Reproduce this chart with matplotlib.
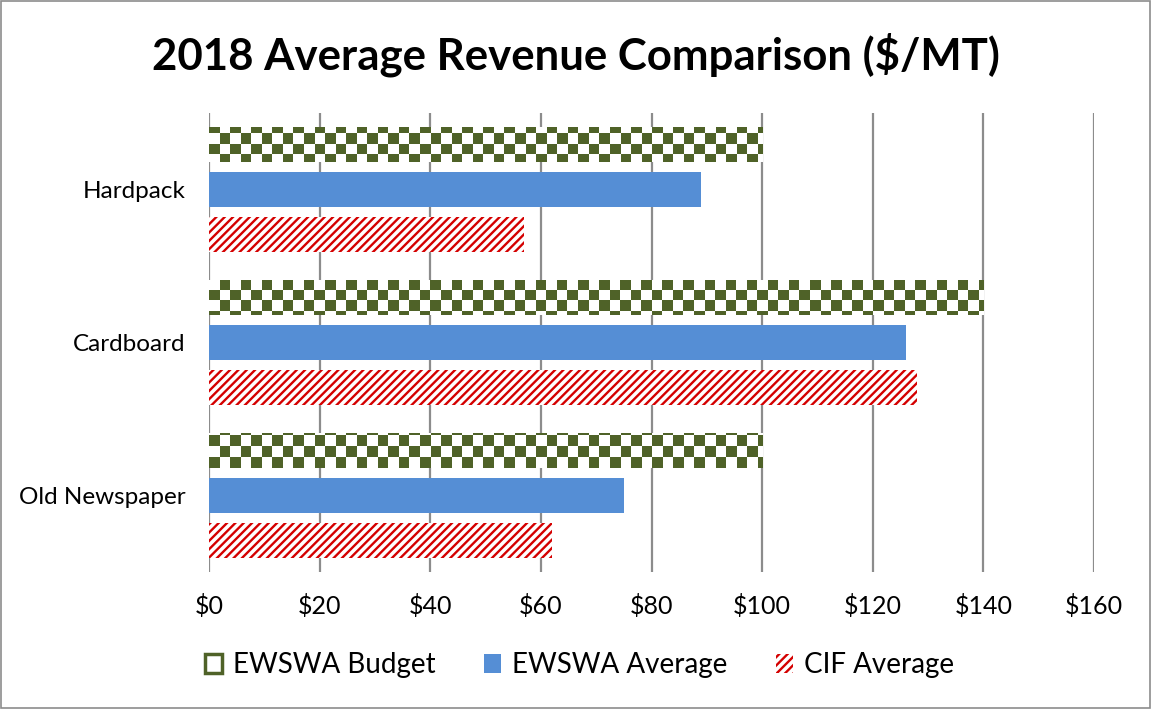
import numpy as np
import matplotlib
matplotlib.use("Agg")
import matplotlib.pyplot as plt
from matplotlib.patches import Rectangle, Patch
from matplotlib.colors import ListedColormap

plt.rcParams['font.family'] = ['Lato', 'DejaVu Sans']
plt.rcParams['hatch.linewidth'] = 1.7

categories = ["Old Newspaper", "Cardboard", "Hardpack"]
budget = [100, 140, 100]
ewswa_avg = [75, 126, 89]
cif_avg = [62, 128, 57]
series_names = ["EWSWA Budget", "EWSWA Average", "CIF Average"]
xticks = [0, 20, 40, 60, 80, 100, 120, 140, 160]
xticklabels = ["$" + str(v) for v in xticks]

OLIVE = "#4F6228"
BLUE = "#558ED5"
RED = "#D40000"

W, H, DPI = 1152, 709, 100
fig = plt.figure(figsize=(W / DPI, H / DPI), dpi=DPI)
ax_l, ax_b, ax_w, ax_h = 209 / W, 1 - 572 / H, (1094 - 209) / W, 459 / H
ax = fig.add_axes([ax_l, ax_b, ax_w, ax_h])

y = np.arange(len(categories))
bh = 0.229
off = 0.294

ax.set_xlim(0, 160)
ax.set_ylim(-0.5, 2.5)

b_budget = ax.barh(y + off, budget, height=bh, color="white", edgecolor="none", zorder=2)
b_avg = ax.barh(y, ewswa_avg, height=bh, color=BLUE, edgecolor="none", zorder=2)
b_cif = ax.barh(y - off, cif_avg, height=bh, color="white", edgecolor=RED, linewidth=0,
                hatch="////", zorder=2)

# checkerboard fill for budget bars
cell = 10.5
ax_px_w = ax_w * W
ax_px_h = ax_h * H
nx = int(round(ax_px_w / cell))
ny = int(round(ax_px_h / cell))
ii, jj = np.indices((ny, nx))
checker = ((ii + jj) % 2).astype(float)
cmap = ListedColormap(["white", OLIVE])
for bar in b_budget:
    im = ax.imshow(checker, cmap=cmap, extent=(0, 160, -0.5, 2.5), origin="upper",
                   aspect="auto", interpolation="nearest", zorder=2.5)
    im.set_clip_path(bar)
ax.set_xlim(0, 160)
ax.set_ylim(-0.5, 2.5)

ax.set_xticks(xticks)
ax.set_xticklabels(xticklabels, fontsize=18)
ax.set_yticks(y)
ax.set_yticklabels(categories, fontsize=17.5)
ax.tick_params(axis="both", length=0)
ax.tick_params(axis="x", pad=16)
ax.tick_params(axis="y", pad=17)
ax.grid(axis="x", color="#8C8C8C", linewidth=1.6, zorder=0)
ax.set_axisbelow(True)
for s in ax.spines.values():
    s.set_visible(False)

fig.text(0.5, 1 - 55 / H, "2018 Average Revenue Comparison ($/MT)", ha="center", va="center",
         fontsize=31.5, fontweight="bold")

handles = [
    Patch(facecolor="white", edgecolor=OLIVE, linewidth=2.5),
    Patch(facecolor=BLUE, edgecolor="none"),
    Patch(facecolor="white", edgecolor=RED, linewidth=0, hatch="////"),
]
fig.legend(handles, series_names, loc="center", bbox_to_anchor=(0.503, 1 - 665 / H),
           ncol=3, frameon=False, fontsize=20, handlelength=0.6, handleheight=0.7,
           handletextpad=0.4, columnspacing=1.75)

fig.add_artist(Rectangle((0.001, 0.001), 0.997, 0.997, transform=fig.transFigure,
                         fill=False, edgecolor="#8C8C8C", linewidth=1.2))

fig.savefig("out.png", dpi=DPI)
